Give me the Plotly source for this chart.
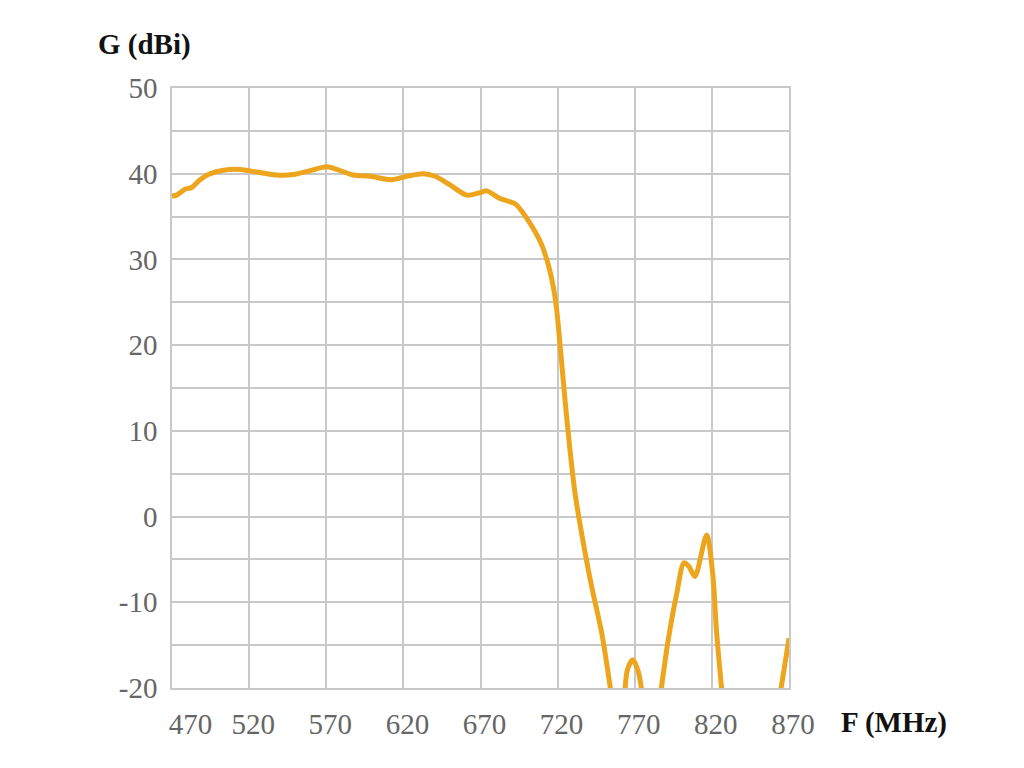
import plotly.graph_objects as go

ORANGE = "#EEA51E"
GRID = "#C9C9C9"
TICK_GRAY = "#666666"

# gain curve; None splits the lobes that dip below -20 dBi
freq_mhz = [
    470, 473, 478.4, 482.8, 488.2, 493.5, 503.3, 514.1, 524.9, 537.9,
    548.6, 559.5, 570.3, 576.8, 587.5, 598.4, 612.4, 622.2, 632.9, 640.5,
    650.2, 661.1, 669.7, 674.0, 682.7, 692.4, 697.7, 704.2, 709.7, 714.0,
    717.2, 719.4, 721.1, 724.8, 728.0, 731.3, 735.6, 742.1, 748.6, 755.0,
    None,
    763.5, 765.2, 768.7, 772.3, 775.0,
    None,
    786.5, 791.7, 797.2, 801.9, 805.0, 809.0, 816.6, 820.5, 823.1, 826.8,
    None,
    864.0, 870.0,
]
gain_dbi = [
    37.4, 37.5, 38.2, 38.4, 39.3, 39.9, 40.4, 40.5, 40.2, 39.85,
    39.9, 40.35, 40.8, 40.5, 39.85, 39.7, 39.3, 39.7, 40.0, 39.7,
    38.7, 37.5, 37.8, 38.0, 37.1, 36.5, 35.4, 33.6, 31.7, 29.35,
    26.8, 24.1, 21.0, 13.6, 7.8, 2.7, -2.0, -8.2, -13.6, -21.0,
    None,
    -21.0, -17.9, -16.7, -18.1, -21.0,
    None,
    -21.0, -14.4, -9.0, -5.4, -5.8, -7.0, -2.15, -6.6, -13.6, -21.0,
    None,
    -21.0, -14.2,
]

x_ticks = [470, 520, 570, 620, 670, 720, 770, 820, 870]
y_ticks = [50, 40, 30, 20, 10, 0, -10, -20]

fig = go.Figure()
fig.add_trace(
    go.Scatter(
        x=freq_mhz,
        y=gain_dbi,
        mode="lines",
        line=dict(color=ORANGE, width=5, shape="spline", smoothing=0.8),
        connectgaps=False,
        showlegend=False,
    )
)

tick_font = dict(family="Liberation Serif", size=29, color=TICK_GRAY)
label_font = dict(family="Liberation Serif", size=29, color="#111111")

fig.update_xaxes(
    range=[470, 870],
    tickvals=x_ticks,
    ticktext=["\u00a0\u00a0\u00a0\u00a0470"] + [str(v) for v in x_ticks[1:]],
    ticklabelshift=4,
    ticklabelstandoff=9,
    tickfont=tick_font,
    showgrid=True,
    gridcolor=GRID,
    gridwidth=1.5,
    showline=True,
    linecolor=GRID,
    linewidth=1.5,
    mirror=True,
    zeroline=False,
)
fig.update_yaxes(
    range=[-20, 50],
    tickvals=y_ticks,
    ticktext=[str(v) for v in y_ticks],
    ticklabelstandoff=7,
    tickfont=tick_font,
    showgrid=True,
    gridcolor=GRID,
    gridwidth=1.5,
    minor=dict(dtick=5, showgrid=True, gridcolor=GRID, gridwidth=1.5),
    showline=True,
    linecolor=GRID,
    linewidth=1.5,
    mirror=True,
    zeroline=False,
)

fig.add_annotation(
    text="<b>G (dBi)</b>", xref="paper", yref="paper",
    x=-0.044, y=1.072, xanchor="center", yanchor="middle",
    showarrow=False, font=label_font,
)
fig.add_annotation(
    text="<b>F (MHz)</b>", xref="paper", yref="paper",
    x=1.17, y=-0.058, xanchor="center", yanchor="middle",
    showarrow=False, font=label_font,
)

# page body has an 8px margin, so the figure is 8px smaller and margins shifted
fig.update_layout(
    width=1016,
    height=760,
    margin=dict(l=164, r=235, t=80, b=80),
    plot_bgcolor="white",
    paper_bgcolor="white",
)

fig.write_html("out.html")
